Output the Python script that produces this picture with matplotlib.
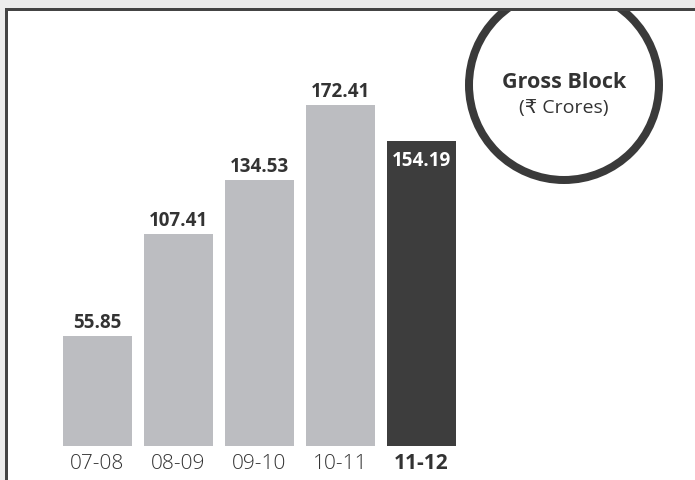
import matplotlib
matplotlib.use("Agg")
import matplotlib.pyplot as plt
from matplotlib import patches

# Data
years = ["07-08", "08-09", "09-10", "10-11", "11-12"]
gross_block = [55.85, 107.41, 134.53, 172.41, 154.19]
title_main = "Gross Block"
title_unit = "(\u20b9 Crores)"

W, H = 695, 481
DPI = 100
LIGHT = "#bcbdc1"
DARK = "#3d3d3d"
TEXT = "#333333"
FONT = ["Open Sans", "DejaVu Sans"]

fig = plt.figure(figsize=(W / DPI, H / DPI), dpi=DPI)

# Frame / decoration layer in pixel coordinates
bg = fig.add_axes([0, 0, 1, 1])
bg.set_xlim(0, W)
bg.set_ylim(H, 0)
bg.axis("off")
bg.add_patch(patches.Rectangle((0, 0), W, H, facecolor="#ececec", edgecolor="none", zorder=0))
bg.add_patch(patches.Rectangle((5.5, 10), W + 20, H + 20, facecolor="white",
                               edgecolor="#444444", linewidth=3 * 72 / DPI, zorder=1))

# Ring with the chart title (cut off by the top edge of the panel)
ring = patches.Circle((564, 86), 95, fill=False, edgecolor="#3a3a3a",
                      linewidth=8 * 72 / DPI, zorder=2)
bg.add_patch(ring)
clip = patches.Rectangle((7, 11.5), W, H, transform=bg.transData)
ring.set_clip_path(clip)
bg.text(564, 82, title_main, ha="center", va="center", fontsize=15.5,
        fontweight="bold", color=TEXT, family=FONT, zorder=3)
bg.text(564, 108, title_unit, ha="center", va="center", fontsize=14,
        color=TEXT, family=FONT, zorder=3)

# Bar chart layer
px_per_unit = 1.977
y_top = 200
ax_h = y_top * px_per_unit
ax_left, ax_right = 57, 462
ax_bottom = 447
ax = fig.add_axes([ax_left / W, (H - ax_bottom) / H, (ax_right - ax_left) / W, ax_h / H])
ax.set_xlim(-0.5, len(years) - 0.5)
ax.set_ylim(0, y_top)
ax.axis("off")
ax.patch.set_alpha(0)

colors = [LIGHT] * (len(years) - 1) + [DARK]
x = list(range(len(years)))
ax.bar(x, gross_block, width=69 / 81, color=colors, zorder=2)

for i, v in enumerate(gross_block):
    if i == len(years) - 1:
        ax.annotate(f"{v:.2f}", (i, v), xytext=(0, -9), textcoords="offset pixels",
                    ha="center", va="top", fontsize=13.5, fontweight="bold",
                    color="white", family=FONT, zorder=3)
    else:
        ax.annotate(f"{v:.2f}", (i, v), xytext=(0, 4), textcoords="offset pixels",
                    ha="center", va="bottom", fontsize=13.5, fontweight="bold",
                    color=TEXT, family=FONT, zorder=3)

for i, lab in enumerate(years):
    last = i == len(years) - 1
    ax.annotate(lab, (i, 0), xytext=(0, -17), textcoords="offset pixels",
                ha="center", va="center", fontsize=15,
                fontweight="bold" if last else "light", color=TEXT, family=FONT)

fig.savefig("out.png", dpi=DPI)
